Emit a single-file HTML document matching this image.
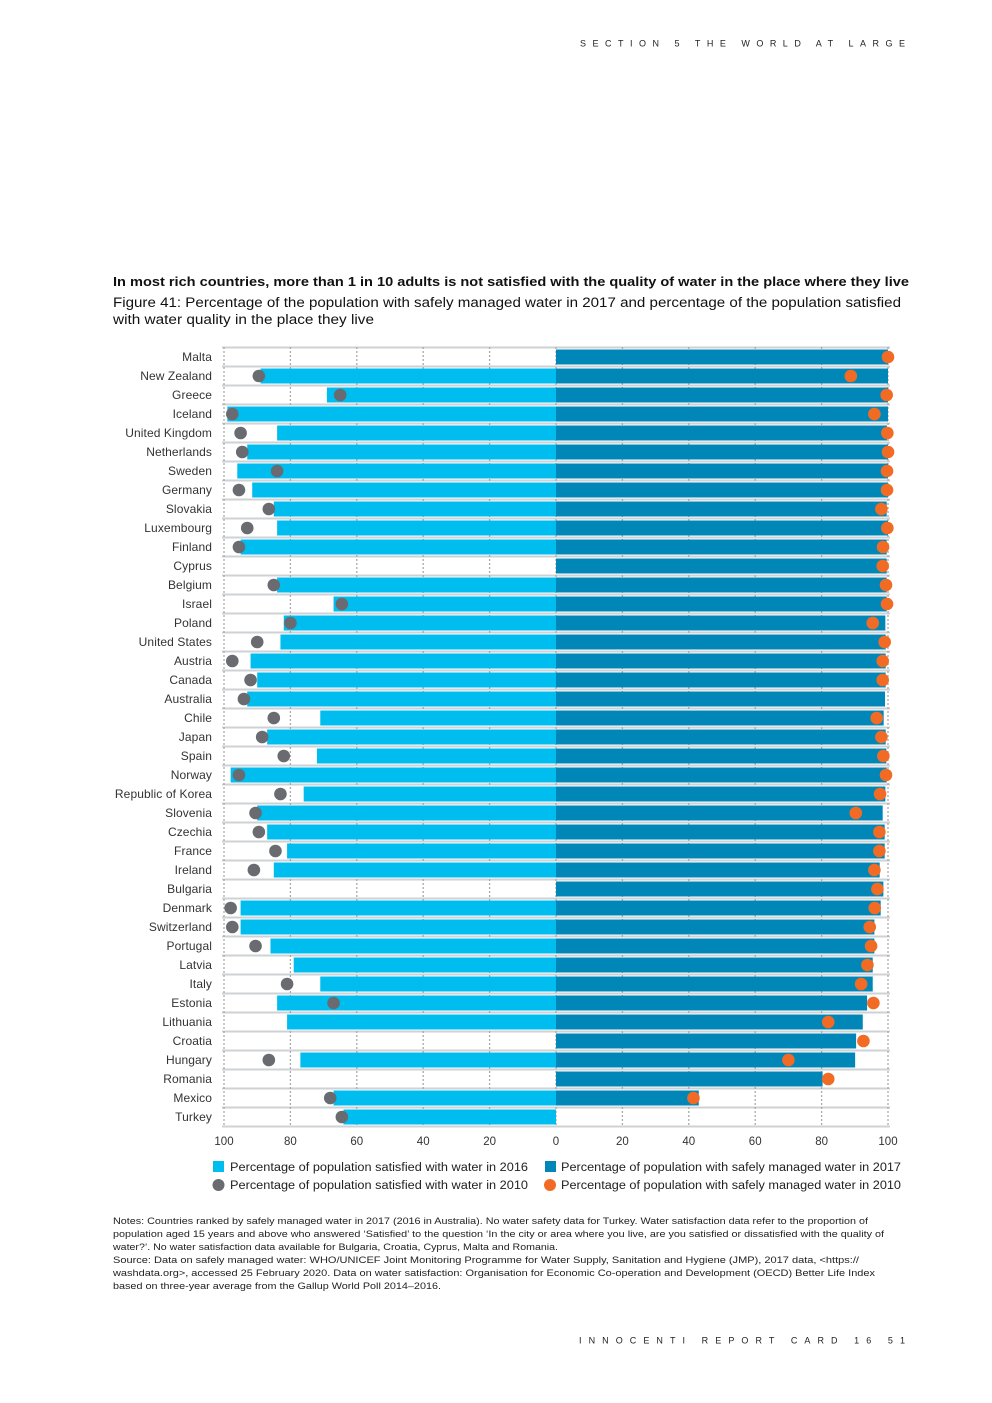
<!DOCTYPE html>
<html><head><meta charset="utf-8"><style>
html,body{margin:0;padding:0;background:#fff}
svg{display:block;font-family:"Liberation Sans",sans-serif}
</style></head><body>
<svg id="page" width="992" height="1403" viewBox="0 0 992 1403">
<text x="580" y="46.5" font-size="9" fill="#222" textLength="325" lengthAdjust="spacing">SECTION 5 THE WORLD AT LARGE</text>
<text x="113" y="286" font-size="12.5" font-weight="bold" fill="#111" textLength="796" lengthAdjust="spacingAndGlyphs">In most rich countries, more than 1 in 10 adults is not satisfied with the quality of water in the place where they live</text>
<text x="113" y="307" font-size="13.5" fill="#111" textLength="788" lengthAdjust="spacingAndGlyphs">Figure 41: Percentage of the population with safely managed water in 2017 and percentage of the population satisfied</text>
<text x="113" y="324" font-size="13.5" fill="#111" textLength="261" lengthAdjust="spacingAndGlyphs">with water quality in the place they live</text>
<g id="chart"></g>
<g>
<rect x="213" y="1161" width="11" height="11" fill="#00bdf0"/>
<text x="230" y="1171" font-size="11.5" fill="#222" textLength="298" lengthAdjust="spacingAndGlyphs">Percentage of population satisfied with water in 2016</text>
<rect x="545" y="1161" width="11" height="11" fill="#0087b7"/>
<text x="561" y="1171" font-size="11.5" fill="#222" textLength="340" lengthAdjust="spacingAndGlyphs">Percentage of population with safely managed water in 2017</text>
<circle cx="218.5" cy="1185" r="6" fill="#696b70"/>
<text x="230" y="1189" font-size="11.5" fill="#222" textLength="298" lengthAdjust="spacingAndGlyphs">Percentage of population satisfied with water in 2010</text>
<circle cx="550" cy="1185" r="6" fill="#f26b25"/>
<text x="561" y="1189" font-size="11.5" fill="#222" textLength="340" lengthAdjust="spacingAndGlyphs">Percentage of population with safely managed water in 2010</text>
</g>
<g font-size="9" fill="#222">
<text x="113" y="1224" textLength="755" lengthAdjust="spacingAndGlyphs">Notes: Countries ranked by safely managed water in 2017 (2016 in Australia). No water safety data for Turkey. Water satisfaction data refer to the proportion of</text>
<text x="113" y="1237" textLength="771" lengthAdjust="spacingAndGlyphs">population aged 15 years and above who answered ‘Satisfied’ to the question ‘In the city or area where you live, are you satisfied or dissatisfied with the quality of</text>
<text x="113" y="1250" textLength="445" lengthAdjust="spacingAndGlyphs">water?’. No water satisfaction data available for Bulgaria, Croatia, Cyprus, Malta and Romania.</text>
<text x="113" y="1263" textLength="746" lengthAdjust="spacingAndGlyphs">Source: Data on safely managed water: WHO/UNICEF Joint Monitoring Programme for Water Supply, Sanitation and Hygiene (JMP), 2017 data, &lt;https://</text>
<text x="113" y="1276" textLength="762" lengthAdjust="spacingAndGlyphs">washdata.org&gt;, accessed 25 February 2020. Data on water satisfaction: Organisation for Economic Co-operation and Development (OECD) Better Life Index</text>
<text x="113" y="1289" textLength="328" lengthAdjust="spacingAndGlyphs">based on three-year average from the Gallup World Poll 2014–2016.</text>
</g>
<text x="579" y="1343.5" font-size="9" fill="#222" textLength="326" lengthAdjust="spacing">INNOCENTI REPORT CARD 16   51</text>
</svg>
<script>
const countries=["Malta","New Zealand","Greece","Iceland","United Kingdom","Netherlands","Sweden","Germany","Slovakia","Luxembourg","Finland","Cyprus","Belgium","Israel","Poland","United States","Austria","Canada","Australia","Chile","Japan","Spain","Norway","Republic of Korea","Slovenia","Czechia","France","Ireland","Bulgaria","Denmark","Switzerland","Portugal","Latvia","Italy","Estonia","Lithuania","Croatia","Hungary","Romania","Mexico","Turkey"];
const satisfied2016=[null,89,69,99,84,93,96,91.5,85,84,95,null,84,67,82,83,92,90,93,71,87,72,98,76,90,87,81,85,null,95,95,86,79,71,84,81,null,77,null,67,64];
const satisfied2010=[null,89.5,65,97.5,95,94.5,84,95.5,86.5,93,95.5,null,85,64.5,80,90,97.5,92,94,85,88.5,82,95.5,83,90.5,89.5,84.5,91,null,98,97.5,90.5,null,81,67,null,null,86.5,null,68,64.5];
const safe2017=[100,100,100,100,99.7,100,100,100,99.6,100,99.6,99.6,99.6,99.6,99.2,99.3,99.3,99.3,99.1,98.7,99.3,99.5,99.6,99.2,98.4,99,99,97.5,98.6,97.8,95.9,95.9,95.4,95.4,93.7,92.4,90.4,90.1,80.3,43,null];
const safe2010=[100,88.8,99.6,95.9,99.8,100,99.7,99.7,98,99.8,98.5,98.4,99.4,99.7,95.4,99,98.4,98.4,null,96.6,98,98.6,99.4,97.6,90.3,97.4,97.4,95.9,96.8,96,94.5,94.9,93.8,91.9,95.6,82,92.6,70,82,41.4,null];
const ticks=[100,80,60,40,20,0,20,40,60,80,100];

const NS="http://www.w3.org/2000/svg";
const g=document.getElementById('chart');
const X0=556, U=3.32, Y0=357, STEP=19;
const xl=v=>X0-v*U, xr=v=>X0+v*U, yc=i=>Y0+i*STEP;
function mk(t,a){const e=document.createElementNS(NS,t);for(const k in a)e.setAttribute(k,a[k]);g.appendChild(e);return e;}
for(let i=0;i<=countries.length;i++){
  const l=mk('line',{x1:222,x2:890,y1:yc(i)-9.5,y2:yc(i)-9.5,stroke:'#cfd2d4','stroke-width':2});
  
  
}
for(let k=0;k<ticks.length;k++){
  const x=k<5?xl(ticks[k]):xr(ticks[k]);
  const l=mk('line',{x1:x,x2:x,y1:yc(0)-10,y2:yc(countries.length-1)+10,stroke:'#a8aaac','stroke-width':1.3,'stroke-dasharray':'2,2'});
  
  
  const t=mk('text',{x:x,y:1145,'font-size':11.5,fill:'#333','text-anchor':'middle'});
  t.textContent=ticks[k];
  
  
}
countries.forEach((c,i)=>{
  const y=yc(i);
  const t=mk('text',{x:212,y:y+4,'font-size':12,fill:'#333','text-anchor':'end','letter-spacing':'0.1'});
  t.textContent=c;
  
  
  if(satisfied2016[i]!=null){
    const r=mk('rect',{x:xl(satisfied2016[i]),y:y-7.5,width:satisfied2016[i]*U,height:15,fill:'#00bdf0'});
    
    
  }
  if(safe2017[i]!=null){
    const r=mk('rect',{x:X0,y:y-7.5,width:safe2017[i]*U,height:15,fill:'#0087b7'});
    
    
  }
  if(satisfied2010[i]!=null){
    const d=mk('circle',{cx:xl(satisfied2010[i]),cy:y,r:6.3,fill:'#696b70'});
    
    
  }
  if(safe2010[i]!=null){
    const d=mk('circle',{cx:xr(safe2010[i]),cy:y,r:6.3,fill:'#f26b25'});
    
    
  }
});
</script>
</body></html>
